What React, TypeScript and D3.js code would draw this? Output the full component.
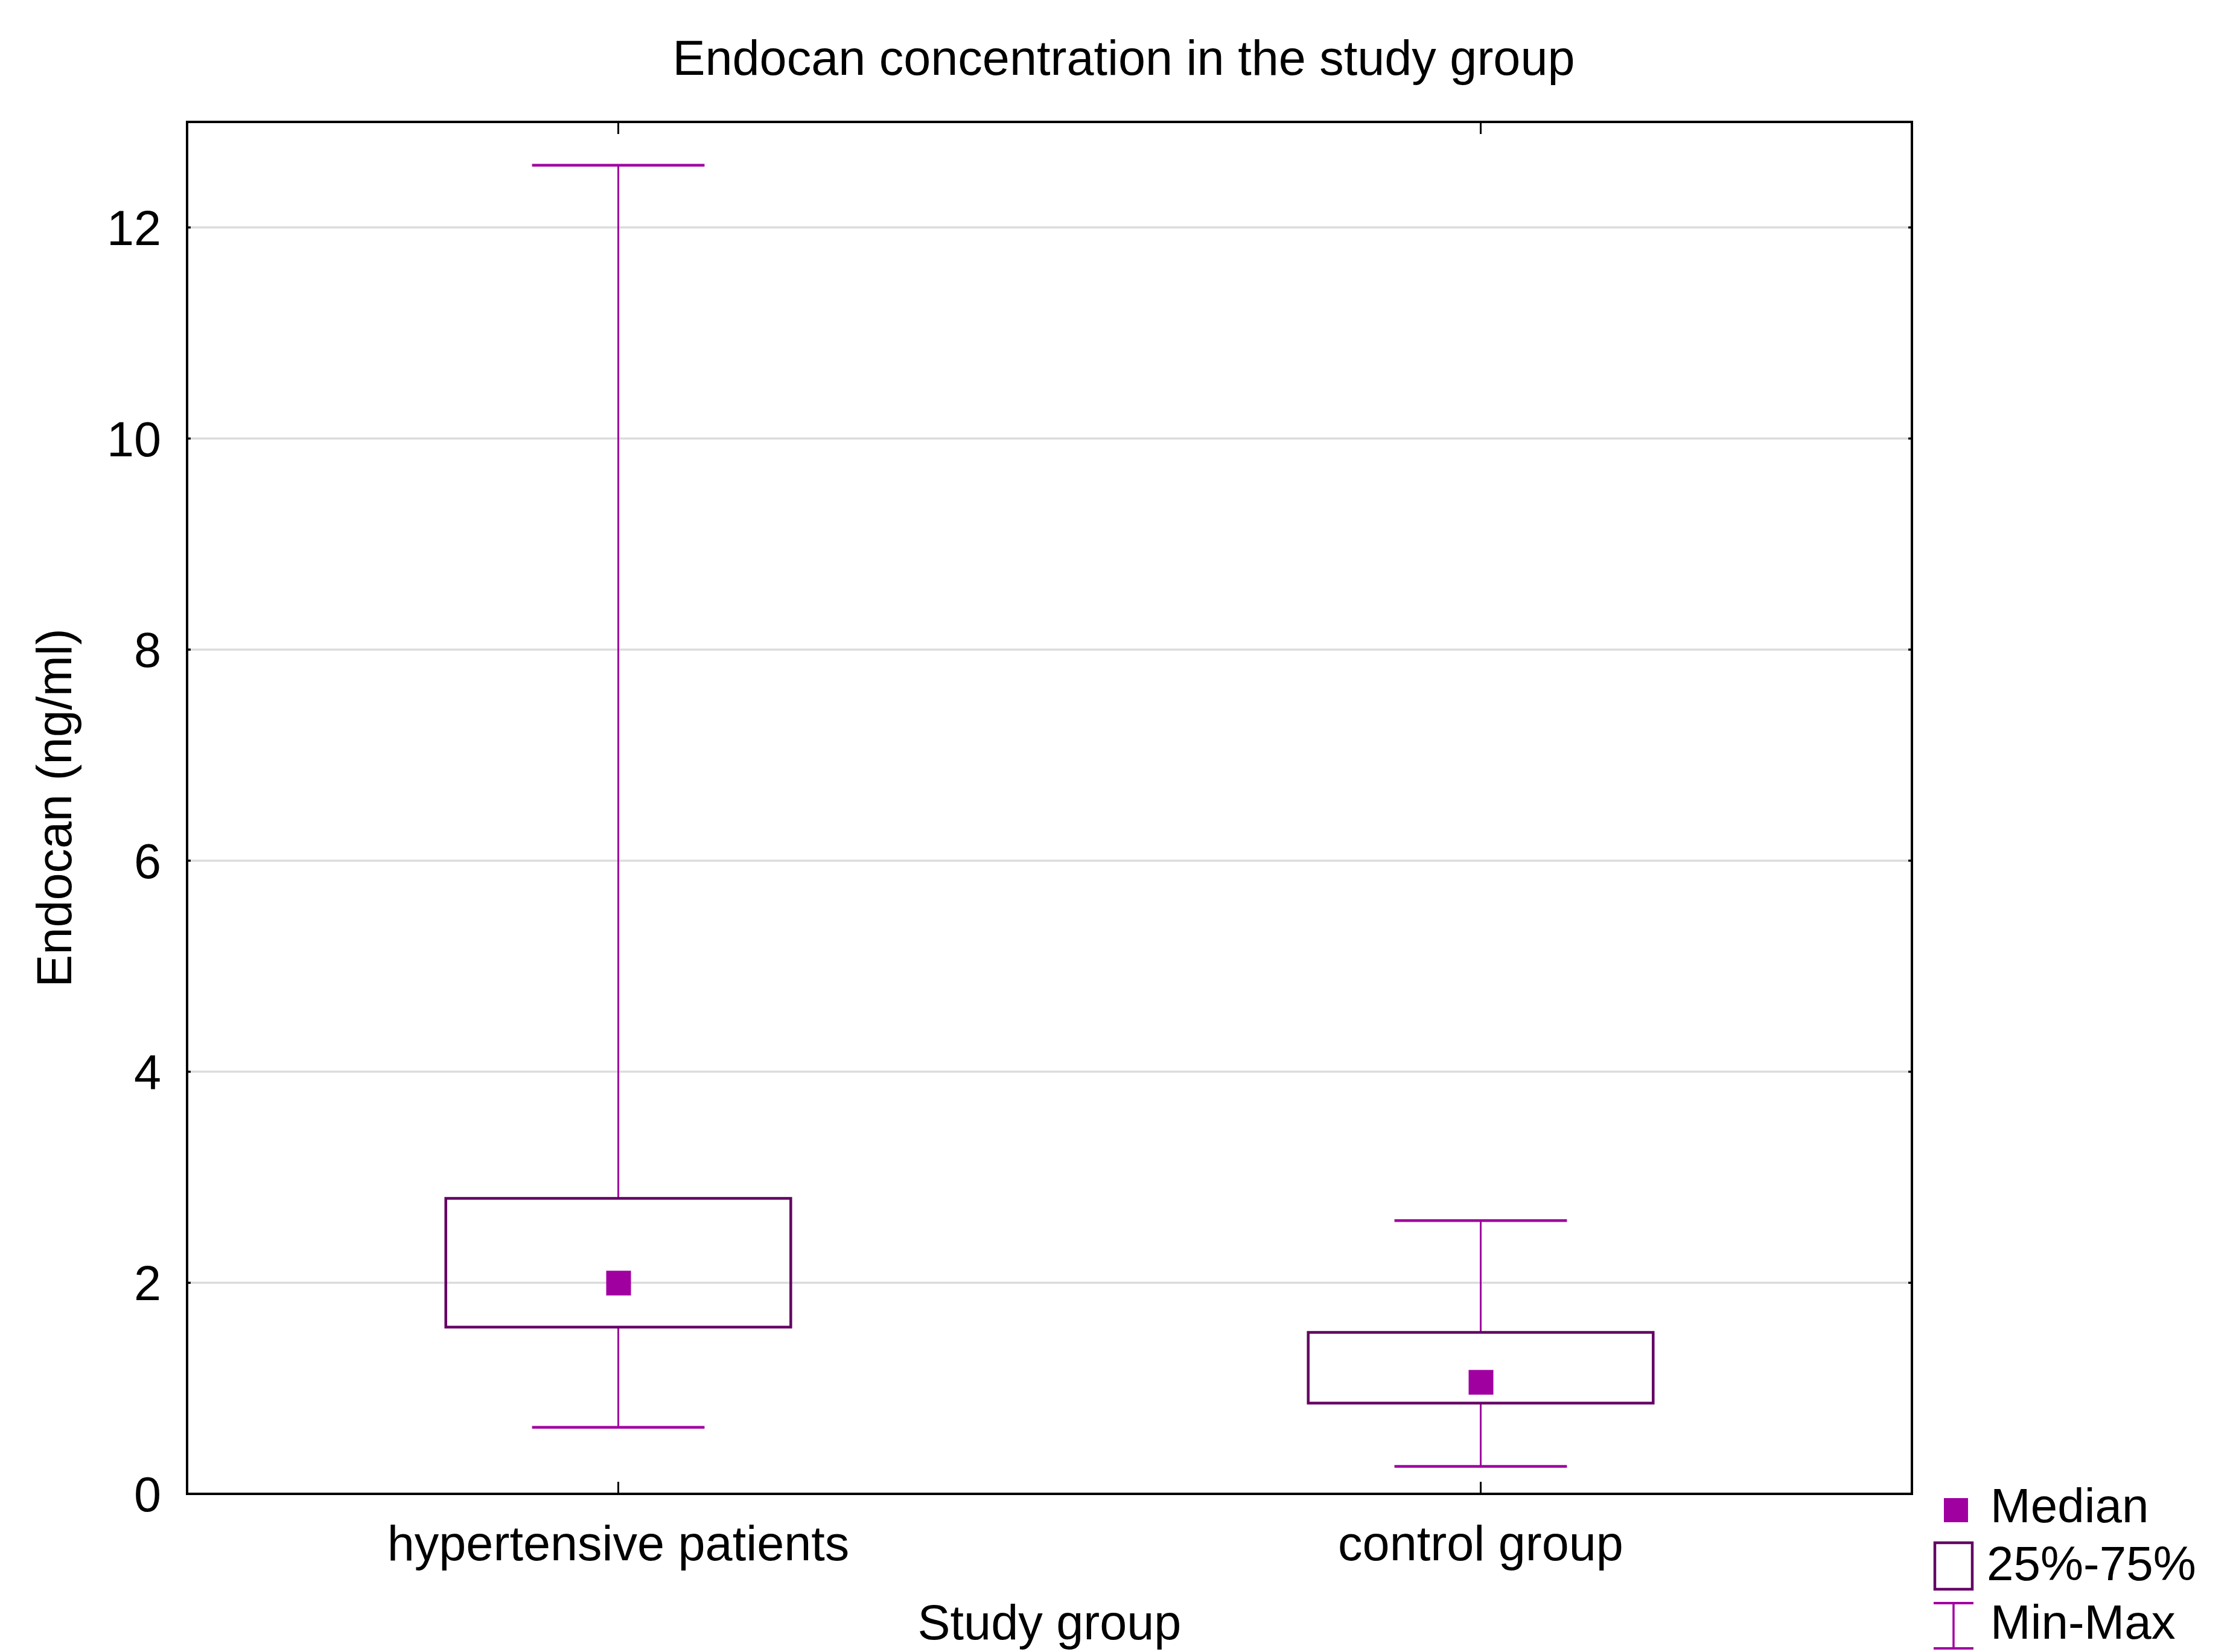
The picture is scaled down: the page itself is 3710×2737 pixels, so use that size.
import React, { useEffect, useRef } from "react";
import * as d3 from "d3";

const groups = ["hypertensive patients", "control group"];
const minValues = [0.63, 0.26];
const q1Values = [1.58, 0.86];
const medianValues = [2.0, 1.06];
const q3Values = [2.8, 1.53];
const maxValues = [12.59, 2.59];
const yTicks = [0, 2, 4, 6, 8, 10, 12];
const legendLabels = ["Median", "25%-75%", "Min-Max"];

const WIDTH = 3710;
const HEIGHT = 2737;
const FONT = "'Liberation Sans', Arial, sans-serif";
const WHISKER = "#a000a0";
const BOX = "#640064";

export default function App() {
  const ref = useRef<SVGSVGElement>(null);

  useEffect(() => {
    if (!ref.current) return;
    const svg = d3.select(ref.current);
    svg.selectAll("*").remove();

    const left = 310;
    const right = 3168;
    const top = 202;
    const bottom = 2475;

    const x = d3.scalePoint<string>().domain(groups).range([left, right]).padding(0.5);
    const y = d3.scaleLinear().domain([0, 13]).range([bottom, top]);
    const step = x.step();
    const boxHalf = step * 0.2;
    const capHalf = step * 0.1;

    svg.append("rect").attr("width", WIDTH).attr("height", HEIGHT).attr("fill", "#fff");

    // gridlines
    svg
      .selectAll("line.grid")
      .data(yTicks.filter((t) => t > 0))
      .join("line")
      .attr("class", "grid")
      .attr("x1", left)
      .attr("x2", right)
      .attr("y1", (d) => y(d))
      .attr("y2", (d) => y(d))
      .attr("stroke", "#dcdcdc")
      .attr("stroke-width", 3.5);

    // small y ticks on both sides
    yTicks.forEach((t) => {
      svg.append("line").attr("x1", left).attr("x2", left + 6).attr("y1", y(t)).attr("y2", y(t)).attr("stroke", "#000").attr("stroke-width", 3.5);
      svg.append("line").attr("x1", right - 6).attr("x2", right).attr("y1", y(t)).attr("y2", y(t)).attr("stroke", "#000").attr("stroke-width", 3.5);
    });

    // x ticks top and bottom, inward
    groups.forEach((g) => {
      const cx = x(g)!;
      svg.append("line").attr("x1", cx).attr("x2", cx).attr("y1", top).attr("y2", top + 20).attr("stroke", "#000").attr("stroke-width", 3);
      svg.append("line").attr("x1", cx).attr("x2", cx).attr("y1", bottom).attr("y2", bottom - 20).attr("stroke", "#000").attr("stroke-width", 3);
    });

    // boxes and whiskers
    groups.forEach((g, i) => {
      const cx = x(g)!;
      const gEl = svg.append("g");

      gEl.append("line").attr("x1", cx).attr("x2", cx).attr("y1", y(maxValues[i])).attr("y2", y(q3Values[i])).attr("stroke", WHISKER).attr("stroke-width", 3);
      gEl.append("line").attr("x1", cx).attr("x2", cx).attr("y1", y(q1Values[i])).attr("y2", y(minValues[i])).attr("stroke", WHISKER).attr("stroke-width", 3);
      [maxValues[i], minValues[i]].forEach((v) => {
        gEl.append("line").attr("x1", cx - capHalf).attr("x2", cx + capHalf).attr("y1", y(v)).attr("y2", y(v)).attr("stroke", WHISKER).attr("stroke-width", 4.5);
      });

      gEl
        .append("rect")
        .attr("x", cx - boxHalf)
        .attr("y", y(q3Values[i]))
        .attr("width", boxHalf * 2)
        .attr("height", y(q1Values[i]) - y(q3Values[i]))
        .attr("fill", "none")
        .attr("stroke", BOX)
        .attr("stroke-width", 4.5);

      gEl
        .append("rect")
        .attr("x", cx - 20)
        .attr("y", y(medianValues[i]) - 20)
        .attr("width", 41)
        .attr("height", 41)
        .attr("fill", WHISKER);
    });

    // frame
    svg
      .append("rect")
      .attr("x", left)
      .attr("y", top)
      .attr("width", right - left)
      .attr("height", bottom - top)
      .attr("fill", "none")
      .attr("stroke", "#000")
      .attr("stroke-width", 4);

    // y tick labels
    svg
      .selectAll("text.ytick")
      .data(yTicks)
      .join("text")
      .attr("class", "ytick")
      .attr("x", 267)
      .attr("y", (d) => y(d))
      .attr("dy", "0.36em")
      .attr("text-anchor", "end")
      .attr("font-family", FONT)
      .attr("font-size", 81)
      .attr("fill", "#000")
      .text((d) => d);

    // category labels
    svg
      .selectAll("text.xtick")
      .data(groups)
      .join("text")
      .attr("class", "xtick")
      .attr("x", (d) => x(d)!)
      .attr("y", 2585)
      .attr("text-anchor", "middle")
      .attr("font-family", FONT)
      .attr("font-size", 81)
      .attr("fill", "#000")
      .text((d) => d);

    // titles
    svg
      .append("text")
      .attr("x", 1862)
      .attr("y", 124)
      .attr("text-anchor", "middle")
      .attr("font-family", FONT)
      .attr("font-size", 81)
      .attr("fill", "#000")
      .text("Endocan concentration in the study group");

    svg
      .append("text")
      .attr("x", (left + right) / 2)
      .attr("y", 2716)
      .attr("text-anchor", "middle")
      .attr("font-family", FONT)
      .attr("font-size", 81)
      .attr("fill", "#000")
      .text("Study group");

    svg
      .append("text")
      .attr("transform", `translate(118,${(top + bottom) / 2}) rotate(-90)`)
      .attr("text-anchor", "middle")
      .attr("font-family", FONT)
      .attr("font-size", 81)
      .attr("fill", "#000")
      .text("Endocan (ng/ml)");

    // legend
    const legend = svg.append("g");
    legend.append("rect").attr("x", 3221).attr("y", 2482).attr("width", 40).attr("height", 40).attr("fill", WHISKER);
    legend.append("rect").attr("x", 3206).attr("y", 2556).attr("width", 62).attr("height", 77).attr("fill", "none").attr("stroke", BOX).attr("stroke-width", 4.5);
    legend.append("line").attr("x1", 3204).attr("x2", 3270).attr("y1", 2656).attr("y2", 2656).attr("stroke", WHISKER).attr("stroke-width", 4);
    legend.append("line").attr("x1", 3204).attr("x2", 3270).attr("y1", 2731).attr("y2", 2731).attr("stroke", WHISKER).attr("stroke-width", 4);
    legend.append("line").attr("x1", 3237).attr("x2", 3237).attr("y1", 2656).attr("y2", 2731).attr("stroke", WHISKER).attr("stroke-width", 3.5);

    legend
      .selectAll("text")
      .data(legendLabels)
      .join("text")
      .attr("x", (d, i) => (i === 1 ? 3292 : 3298))
      .attr("y", (d, i) => [2522, 2618, 2715][i])
      .attr("font-family", FONT)
      .attr("font-size", 80)
      .attr("fill", "#000")
      .text((d) => d);
  }, []);

  return (
    <svg
      ref={ref}
      width={WIDTH}
      height={HEIGHT}
      style={{ position: "absolute", left: 0, top: 0, display: "block" }}
    />
  );
}
